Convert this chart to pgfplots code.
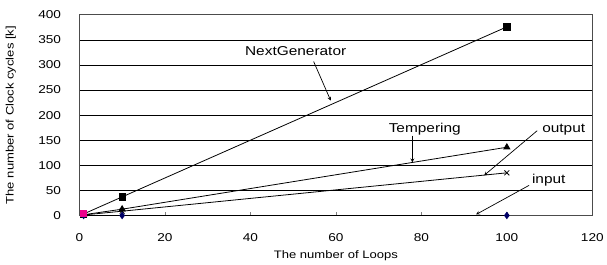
\documentclass[border=0pt]{standalone}
\usepackage{fontspec}
\setmainfont{Liberation Sans}[FakeStretch=1.2]
\usepackage{pgfplots}
\pgfplotsset{compat=1.18}
\begin{document}
\begin{tikzpicture}
\begin{axis}[
  name=ax,
  scale only axis,
  width=519pt, height=203pt,
  xmin=0, xmax=120, ymin=0, ymax=400,
  xtick={0,20,...,120}, ytick={0,50,...,400},
  ymajorgrids, major grid style={black, line width=0.7pt},
  axis line style={black!70, line width=0.9pt},
  tick align=inside, xtick pos=bottom, ytick pos=left,
  major tick length=4pt, ytick style={draw=none},
  tick label style={font=\fontsize{11.5}{12}\selectfont},
  yticklabel style={xshift=-15pt},
  xticklabel style={yshift=-15pt},
  /pgf/number format/assume math mode=true,
  xlabel={The number of Loops}, ylabel={The number of Clock cycles [k]},
  label style={font=\fontsize{11}{12}\selectfont},
  xlabel style={at={(axis description cs:0.5,-0.2)}, anchor=center},
  ylabel style={at={(axis description cs:-0.1335,0.5)}, anchor=center},
  every axis plot/.append style={line width=0.8pt},
  clip=false,
]
\addplot[black, mark=square*, mark size=3.2pt] coordinates {(1,3) (10,37) (100,376)};
\addplot[black, mark=triangle*, mark size=3.5pt] coordinates {(1,1.5) (10,12.5) (100,136)};
\addplot[black, mark=x, mark size=3.5pt] coordinates {(1,1) (10,8.5) (100,85)};
\addplot[black, mark=diamond*, mark size=3.2pt, mark options={fill=blue!40!black, draw=blue!40!black}] coordinates {(1,0) (10,0) (100,0)};
\addplot[only marks, mark=square*, mark size=3pt, magenta] coordinates {(1,4)};
\node[font=\fontsize{13}{14}\selectfont] at (axis cs:50.6,327) {NextGenerator};
\draw[->, >=stealth, line width=0.7pt] (axis cs:54.8,307) -- (axis cs:58.8,229);
\node[font=\fontsize{13}{14}\selectfont] at (axis cs:80.8,172) {Tempering};
\draw[->, >=stealth, line width=0.7pt] (axis cs:77.9,159) -- (axis cs:77.9,106);
\node[font=\fontsize{13}{14}\selectfont] at (axis cs:113.3,172) {output};
\draw[->, >=stealth, line width=0.7pt] (axis cs:107.1,169) -- (axis cs:94.7,80);
\node[font=\fontsize{13}{14}\selectfont] at (axis cs:109.8,70) {input};
\draw[->, >=stealth, line width=0.7pt] (axis cs:105.2,60) -- (axis cs:92.8,2);
\end{axis}
\path ([shift={(-80.3pt,-49.2pt)}]ax.south west) rectangle ([shift={(10pt,15pt)}]ax.north east);
\end{tikzpicture}
\end{document}
